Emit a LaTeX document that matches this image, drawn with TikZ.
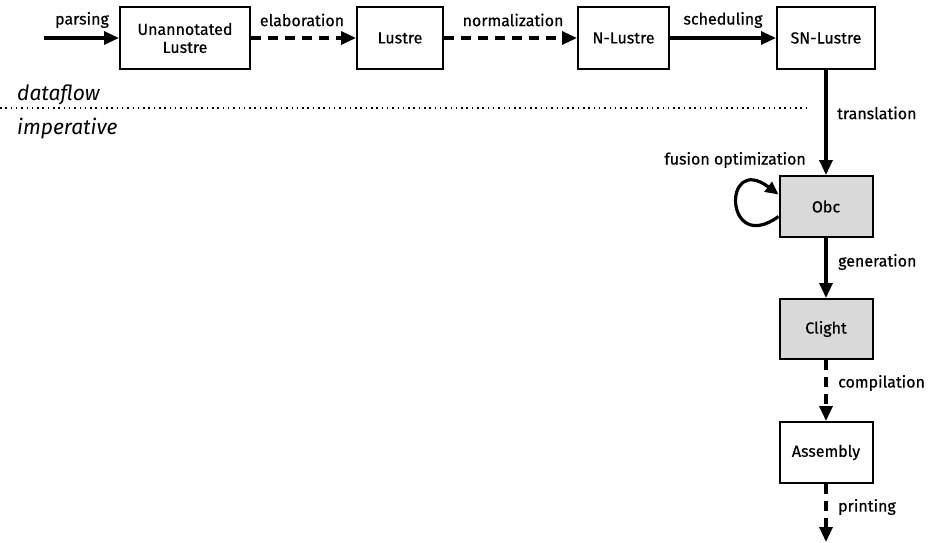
\documentclass[tikz,border=0pt]{standalone}
\usepackage{fontspec}
\setmainfont{Fira Sans}[FakeBold=0.45]
\newfontfamily\realmfont{Fira Sans}
\usetikzlibrary{arrows.meta}
\begin{document}
\begin{tikzpicture}[x=1pt,y=-1pt,
  font=\fontsize{16}{18}\selectfont,
  stage/.style={draw, line width=2pt, align=center, inner sep=0pt},
  hl/.style={stage, fill=black!15},
  flow/.style={line width=3.2pt, -{Triangle[length=15pt,width=13pt]}},
  weak/.style={flow, dash pattern=on 10pt off 7pt},
  lbl/.style={inner sep=0pt},
  realm/.style={inner sep=0pt, font=\realmfont\fontsize{21}{24}\selectfont\itshape}]
\useasboundingbox (0,0) rectangle (930,543);

% dataflow pipeline
\node[stage, minimum width=130pt, minimum height=62pt] (unann) at (185,38) {Unannotated\\Lustre};
\node[stage, minimum width=86pt, minimum height=62pt] (lustre) at (400,38) {Lustre};
\node[stage, minimum width=91pt, minimum height=62pt] (nlustre) at (623.5,38) {N-Lustre};
\node[stage, minimum width=98pt, minimum height=62pt] (snlustre) at (826,38) {SN-Lustre};

% imperative pipeline
\node[hl, minimum width=93pt, minimum height=61pt] (obc) at (826,206.5) {Obc};
\node[hl, minimum width=93pt, minimum height=60pt] (clight) at (826,329) {Clight};
\node[stage, minimum width=93pt, minimum height=61pt] (asm) at (826,452.5) {Assembly};

\coordinate (src) at (44,38);
\coordinate (sink) at (826,542);

\draw[flow] (src) -- (unann);
\draw[weak] (unann) -- (lustre);
\draw[weak] (lustre) -- (nlustre);
\draw[flow] (nlustre) -- (snlustre);
\draw[flow] (snlustre) -- (obc);
\draw[flow] (obc) -- (clight);
\draw[weak] (clight) -- (asm);
\draw[weak] (asm) -- (sink);
% self-loop for the fusion pass
\draw[flow, -{Triangle[length=13pt,width=12pt]}] ([yshift=-10pt]obc.west) .. controls (724,256) and (722,152) .. ([yshift=12pt]obc.west);

% transition labels
\node[lbl] (lparse) at (82,20) {parsing};
\node[lbl] (lelab) at (302,20) {elaboration};
\node[lbl] (lnorm) at (513,20) {normalization};
\node[lbl] (lsched) at (723,20) {scheduling};
\node[lbl, anchor=west] (ltrans) at (837,113) {translation};
\node[lbl, anchor=east] (lfuse) at (806,160) {fusion optimization};
\node[lbl, anchor=west] (lgen) at (838,262) {generation};
\node[lbl, anchor=west] (lcomp) at (838,383) {compilation};
\node[lbl, anchor=west] (lprint) at (838,507) {printing};

% boundary between the two worlds
\coordinate (sepL) at (0,108);
\coordinate (sepR) at (807,108);
\draw[line width=1.5pt, dash pattern=on 1.5pt off 3.8pt] (sepL) -- (sepR);
\node[realm, anchor=base west] (df) at (17,100) {dataflow};
\node[realm, anchor=base west] (imp) at (17,135) {imperative};
\end{tikzpicture}
\end{document}
